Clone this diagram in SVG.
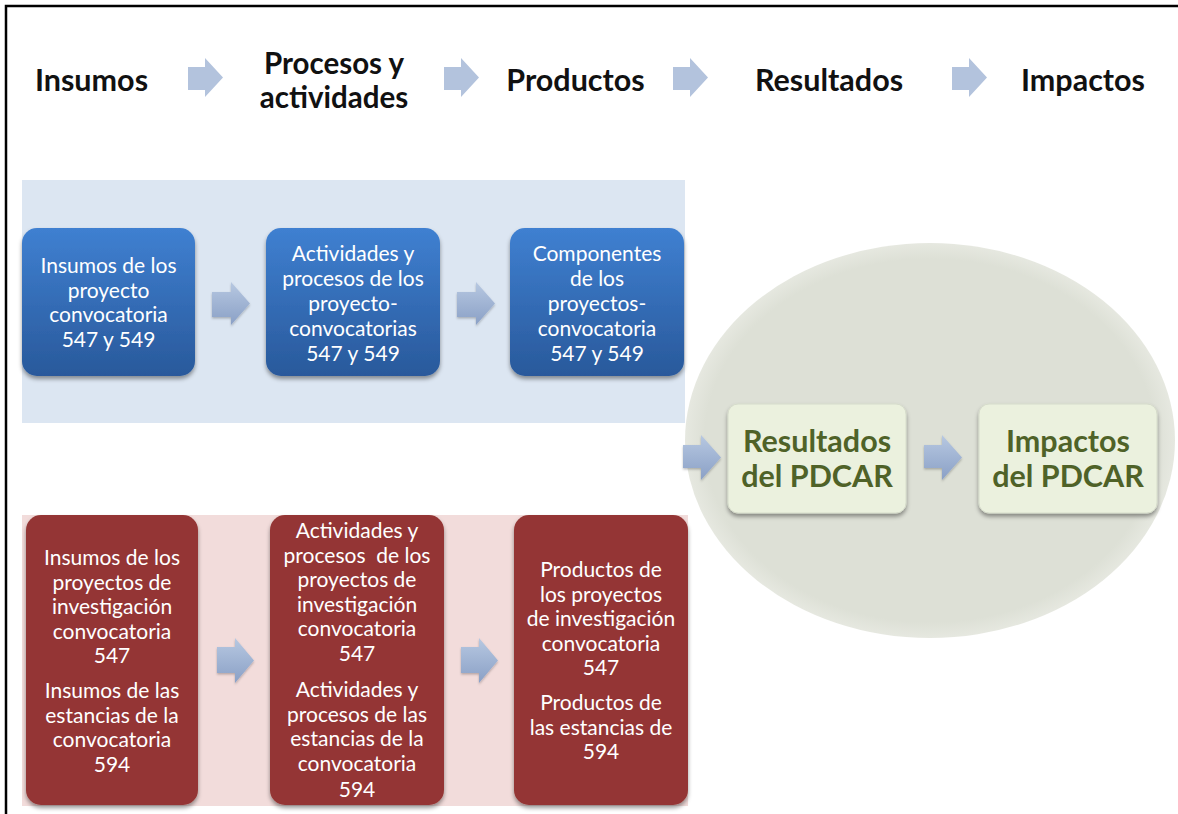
<svg xmlns="http://www.w3.org/2000/svg" width="1178" height="814" viewBox="0 0 1178 814">
<defs>
<style>
.hdr{font-family:Lato,"Open Sans","Liberation Sans",sans-serif;font-weight:bold;font-size:30.5px;fill:#111;text-anchor:middle}
.hdr2{font-family:Lato,"Open Sans","Liberation Sans",sans-serif;font-weight:bold;font-size:29.5px;fill:#111;text-anchor:middle}
.wt{font-family:Lato,"Open Sans","Liberation Sans",sans-serif;font-size:21px;fill:#fff;text-anchor:middle}
.gt{font-family:Lato,"Open Sans","Liberation Sans",sans-serif;font-weight:bold;font-size:30.5px;fill:#4f6228;text-anchor:middle}
.harrow{fill:#b3c3dd}
.barrow{fill:url(#arrowGrad);filter:url(#sh2)}
.bluebox{fill:url(#blueGrad);filter:url(#sh)}
.redbox{fill:#943634;filter:url(#sh)}
.greenbox{fill:#ebf1de;stroke:#d6dccb;stroke-width:1;filter:url(#sh)}
</style>
<linearGradient id="blueGrad" x1="0" y1="0" x2="0" y2="1">
<stop offset="0" stop-color="#3f80d1"/>
<stop offset="1" stop-color="#29599b"/>
</linearGradient>
<linearGradient id="arrowGrad" x1="0" y1="0" x2="0" y2="1">
<stop offset="0" stop-color="#b7c8e1"/>
<stop offset="1" stop-color="#8aa0c6"/>
</linearGradient>
<radialGradient id="ellGrad" cx="0.5" cy="0.5" r="0.5">
<stop offset="0.92" stop-color="#dde0d6"/>
<stop offset="1" stop-color="#e6e8e0"/>
</radialGradient>
<filter id="sh" x="-10%" y="-10%" width="120%" height="125%">
<feDropShadow dx="0" dy="3" stdDeviation="2" flood-color="#000" flood-opacity="0.4"/>
</filter>
<filter id="sh2" x="-20%" y="-20%" width="140%" height="140%">
<feDropShadow dx="0" dy="1.5" stdDeviation="1.2" flood-color="#000" flood-opacity="0.25"/>
</filter>
</defs>
<rect x="0" y="0" width="1178" height="814" fill="#fff"/>
<path d="M6,814 V6 H1178" fill="none" stroke="#000" stroke-width="2.5"/>

<g id="header">
<text class="hdr" x="91.5" y="91">Insumos</text>
<text class="hdr2" x="334" y="73.5">Procesos y</text>
<text class="hdr2" x="334" y="107.5">actividades</text>
<text class="hdr" x="575.5" y="91">Productos</text>
<text class="hdr" x="829" y="91">Resultados</text>
<text class="hdr" x="1083" y="91">Impactos</text>
</g>

<g id="blue-band">
<rect x="22" y="180" width="663" height="243" fill="#dce6f2"/>
</g>
<g id="red-band">
<rect x="22" y="515" width="666" height="291" fill="#f2dcdb"/>
</g>
<g id="ellipse">
<ellipse cx="930" cy="440.5" rx="245" ry="197.5" fill="url(#ellGrad)"/>
</g>

<g id="blue1">
<rect class="bluebox" x="22" y="228" width="173" height="148" rx="15"/>
<text class="wt" x="108.5" y="273">Insumos de los</text>
<text class="wt" x="108.5" y="297.5">proyecto</text>
<text class="wt" x="108.5" y="322">convocatoria</text>
<text class="wt" x="108.5" y="346.5">547 y 549</text>
</g>
<g id="blue2">
<rect class="bluebox" x="266" y="228" width="174" height="148" rx="15"/>
<text class="wt" x="353" y="261">Actividades y</text>
<text class="wt" x="353" y="286">procesos de los</text>
<text class="wt" x="353" y="311">proyecto-</text>
<text class="wt" x="353" y="336">convocatorias</text>
<text class="wt" x="353" y="361">547 y 549</text>
</g>
<g id="blue3">
<rect class="bluebox" x="510" y="228" width="174" height="148" rx="15"/>
<text class="wt" x="597" y="261">Componentes</text>
<text class="wt" x="597" y="286">de los</text>
<text class="wt" x="597" y="311">proyectos-</text>
<text class="wt" x="597" y="336">convocatoria</text>
<text class="wt" x="597" y="361">547 y 549</text>
</g>

<g id="red1">
<rect class="redbox" x="26" y="515" width="172" height="290" rx="15"/>
<text class="wt" x="112" y="565">Insumos de los</text>
<text class="wt" x="112" y="589.5">proyectos de</text>
<text class="wt" x="112" y="614">investigación</text>
<text class="wt" x="112" y="638.5">convocatoria</text>
<text class="wt" x="112" y="663">547</text>
<text class="wt" x="112" y="698">Insumos de las</text>
<text class="wt" x="112" y="722.5">estancias de la</text>
<text class="wt" x="112" y="747">convocatoria</text>
<text class="wt" x="112" y="771.5">594</text>
</g>
<g id="red2">
<rect class="redbox" x="270" y="515" width="174" height="290" rx="15"/>
<text class="wt" x="357" y="538" xml:space="preserve">Actividades y</text>
<text class="wt" x="357" y="562.5" xml:space="preserve">procesos  de los</text>
<text class="wt" x="357" y="587">proyectos de</text>
<text class="wt" x="357" y="611.5">investigación</text>
<text class="wt" x="357" y="636">convocatoria</text>
<text class="wt" x="357" y="660.5">547</text>
<text class="wt" x="357" y="697">Actividades y</text>
<text class="wt" x="357" y="721.5">procesos de las</text>
<text class="wt" x="357" y="746">estancias de la</text>
<text class="wt" x="357" y="770.5">convocatoria</text>
<text class="wt" x="357" y="797">594</text>
</g>
<g id="red3">
<rect class="redbox" x="514" y="515" width="174" height="290" rx="15"/>
<text class="wt" x="601" y="577">Productos de</text>
<text class="wt" x="601" y="601.5">los proyectos</text>
<text class="wt" x="601" y="626">de investigación</text>
<text class="wt" x="601" y="650.5">convocatoria</text>
<text class="wt" x="601" y="675">547</text>
<text class="wt" x="601" y="710">Productos de</text>
<text class="wt" x="601" y="734.5">las estancias de</text>
<text class="wt" x="601" y="759">594</text>
</g>

<g id="resultados">
<rect class="greenbox" x="728" y="404" width="178" height="109" rx="10"/>
<text class="gt" x="817" y="452">Resultados</text>
<text class="gt" x="817" y="487">del PDCAR</text>
</g>
<g id="impactos">
<rect class="greenbox" x="979" y="404" width="178" height="109" rx="10"/>
<text class="gt" x="1068" y="452">Impactos</text>
<text class="gt" x="1068" y="487">del PDCAR</text>
</g>

<g id="connectors">
<path class="harrow" d="M188,67 H205 V58 L223,77.5 L205,97 V90 H188 Z"/>
<path class="harrow" d="M444,67 H461 V58 L479,77.5 L461,97 V90 H444 Z"/>
<path class="harrow" d="M673,67 H690 V58 L708,77.5 L690,97 V90 H673 Z"/>
<path class="harrow" d="M952,67 H969 V58 L987,77.5 L969,97 V90 H952 Z"/>
<path class="barrow" d="M212,292 H231 V282 L250,303.5 L231,325 V317 H212 Z"/>
<path class="barrow" d="M457,292 H476 V282 L495,303.5 L476,325 V317 H457 Z"/>
<path class="barrow" d="M217,647 H235 V638 L254,660.5 L235,683 V673 H217 Z"/>
<path class="barrow" d="M461,647 H479 V638 L498,660.5 L479,683 V673 H461 Z"/>
<path class="barrow" d="M683,445 H701 V435 L721,457.5 L701,480 V468 H683 Z"/>
<path class="barrow" d="M924,445 H942 V435 L962,457.5 L942,480 V468 H924 Z"/>
</g>
</svg>
